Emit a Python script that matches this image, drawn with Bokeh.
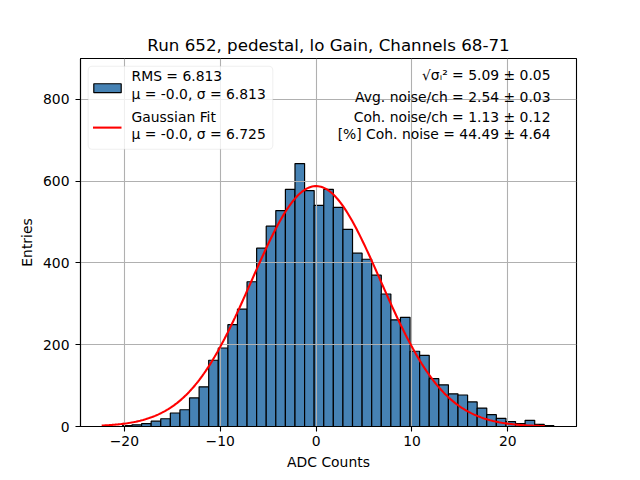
import numpy as np
from bokeh.plotting import figure
from bokeh.models import Range1d, Label, BoxAnnotation, FixedTicker
from bokeh.embed import file_html
from bokeh.resources import INLINE

# ---------------- data ----------------
title_text = "Run 652, pedestal, lo Gain, Channels 68-71"
x_label = "ADC Counts"
y_label = "Entries"

bin_first_edge = -20.2
bin_width = 1.0
counts = [2, 4, 7, 13, 19, 33, 41, 70, 97, 162, 192, 249, 287, 354, 436,
          490, 528, 580, 643, 577, 541, 580, 536, 482, 424, 409, 370, 324,
          261, 267, 184, 174, 117, 102, 80, 77, 60, 45, 29, 20, 12, 7, 15, 5, 2]

fit_mu = -0.0
fit_sigma = 6.725
fit_amplitude = 588.0
fit_x_min = -22.36
fit_x_max = 23.85

legend_lines = ["RMS = 6.813", "\u03bc = -0.0, \u03c3 = 6.813",
                "Gaussian Fit", "\u03bc = -0.0, \u03c3 = 6.725"]
info_lines = ["\u221a\u03c3\u1d62\u00b2 = 5.09 \u00b1 0.05",
              "Avg. noise/ch = 2.54 \u00b1 0.03",
              "Coh. noise/ch = 1.13 \u00b1 0.12",
              "[%] Coh. noise = 44.49 \u00b1 4.64"]

x_ticks = [-20, -10, 0, 10, 20]
y_ticks = [0, 200, 400, 600, 800]
x_start, x_end = -24.57, 27.16
y_start, y_end = 0, 900

# ---------------- layout ----------------
W, H = 632, 472
BL, BT = 80, 58
FW, FH = 496, 369
BR, BB = W - BL - FW, H - BT - FH
FONT = "DejaVu Sans"

def px_x(px):
    return x_start + (px - BL) / FW * (x_end - x_start)

def px_y(py):
    return y_end - (py - BT) / FH * (y_end - y_start)

p = figure(width=W, height=H,
           output_backend="svg", toolbar_location=None,
           x_range=Range1d(x_start, x_end), y_range=Range1d(y_start, y_end),
           min_border_left=BL, min_border_right=BR,
           min_border_top=BT, min_border_bottom=BB)
p.background_fill_color = "white"
p.border_fill_color = "white"
p.outline_line_color = "black"
p.outline_line_width = 1.1

p.title.text = title_text
p.title.text_font = FONT
p.title.text_font_size = "16.7px"
p.title.text_font_style = "normal"
p.title.text_color = "black"
p.title.align = "center"
p.title.standoff = 8

edges = bin_first_edge + bin_width * np.arange(len(counts) + 1)
p.quad(left=edges[:-1], right=edges[1:], bottom=0, top=counts,
       fill_color="#4682b4", line_color="black", line_width=1.2, level="image")

xs = np.linspace(fit_x_min, fit_x_max, 300)
ys = fit_amplitude * np.exp(-((xs - fit_mu) ** 2) / (2 * fit_sigma ** 2))
p.line(xs, ys, line_color="red", line_width=2.1)

for ax in (p.xaxis[0], p.yaxis[0]):
    ax.axis_line_color = "black"
    ax.axis_line_width = 1.1
    ax.major_tick_line_color = "black"
    ax.major_tick_line_width = 1.1
    ax.major_tick_out = 5
    ax.major_tick_in = 0
    ax.minor_tick_line_color = None
    ax.major_label_text_font = FONT
    ax.major_label_text_font_size = "13.9px"
    ax.major_label_text_color = "black"
    ax.axis_label_text_font = FONT
    ax.axis_label_text_font_size = "13.9px"
    ax.axis_label_text_font_style = "normal"
    ax.axis_label_text_color = "black"

p.xaxis.ticker = FixedTicker(ticks=x_ticks)
p.yaxis.ticker = FixedTicker(ticks=y_ticks)
p.xaxis.axis_label = x_label
p.yaxis.axis_label = y_label
p.xaxis.major_label_standoff = 4
p.yaxis.major_label_standoff = 6
p.xaxis.axis_label_standoff = 5
p.yaxis.axis_label_standoff = 5

for g in (p.xgrid[0], p.ygrid[0]):
    g.grid_line_color = "#b0b0b0"
    g.grid_line_width = 1.1
    g.level = "underlay"
p.xgrid.ticker = FixedTicker(ticks=x_ticks)
p.ygrid.ticker = FixedTicker(ticks=y_ticks)

# ---------------- legend (drawn by hand) ----------------
p.add_layout(BoxAnnotation(left=px_x(87.7), right=px_x(272.3),
                           top=px_y(65.7), bottom=px_y(149),
                           fill_color="white", fill_alpha=0.8,
                           line_color="#cccccc", line_width=1.1,
                           border_radius=4, level="guide"))
p.add_layout(BoxAnnotation(left=px_x(93.3), right=px_x(120.7),
                           top=px_y(83.3), bottom=px_y(92.3),
                           fill_color="#4682b4", fill_alpha=1.0,
                           line_color="black", line_width=1.2,
                           line_alpha=1.0, level="overlay"))
p.segment(x0=[px_x(92.5)], x1=[px_x(121)], y0=[px_y(127.3)], y1=[px_y(127.3)],
          line_color="red", line_width=2.1, level="overlay")

legend_y = [76, 93.3, 116.7, 134]
for txt, yy in zip(legend_lines, legend_y):
    p.add_layout(Label(x=px_x(131), y=px_y(yy), text=txt,
                       text_font=FONT, text_font_size="13.9px",
                       text_color="black", text_align="left",
                       text_baseline="middle", level="overlay"))

info_y = [74.3, 96.7, 116.7, 134]
for txt, yy in zip(info_lines, info_y):
    p.add_layout(Label(x=px_x(550), y=px_y(yy), text=txt,
                       text_font=FONT, text_font_size="13.9px",
                       text_color="black", text_align="right",
                       text_baseline="middle", level="overlay"))

open("out.html", "w").write(file_html(p, INLINE))
